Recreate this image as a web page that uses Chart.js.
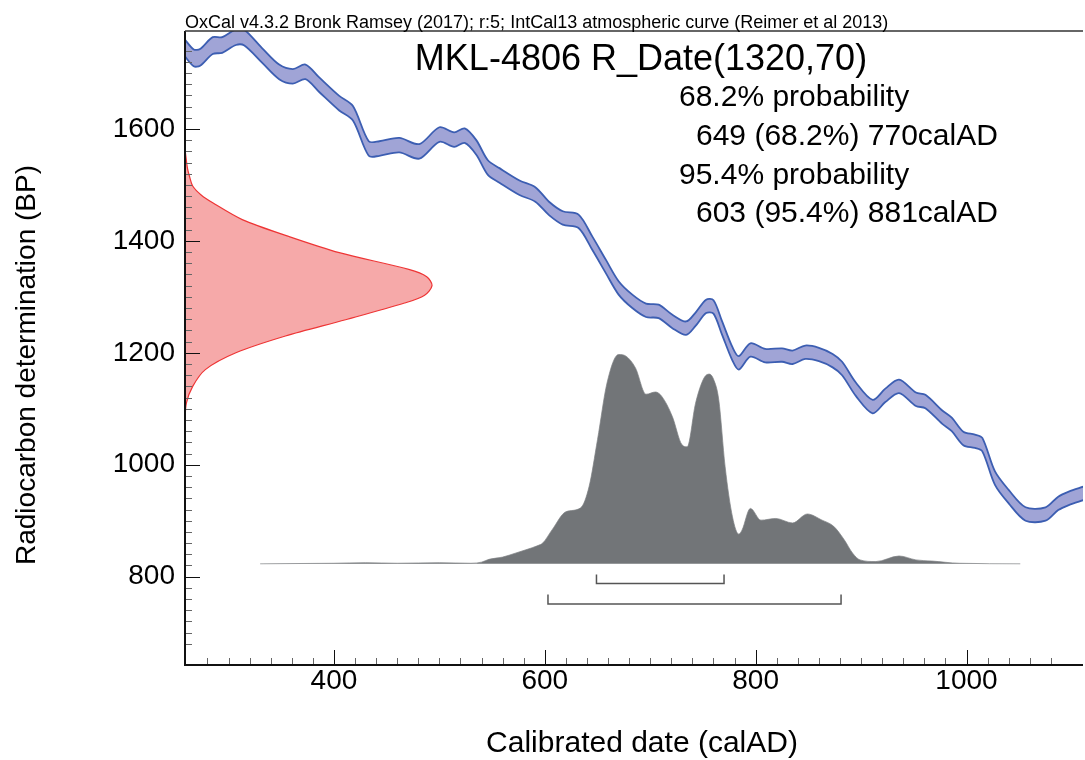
<!DOCTYPE html>
<html>
<head>
<meta charset="utf-8">
<title>MKL-4806 R_Date(1320,70)</title>
<script src="https://cdn.jsdelivr.net/npm/chart.js@4.4.0/dist/chart.umd.min.js"></script>
<style>
    html, body { margin: 0; padding: 0; background: #fff; overflow: hidden; }
    canvas { display: block; }
</style>
</head>
<body>
<canvas id="calChart" width="1085" height="760"></canvas>
<script>
// text shown on the plot
const headerText = 'OxCal v4.3.2 Bronk Ramsey (2017); r:5; IntCal13 atmospheric curve (Reimer et al 2013)';
const titleText = 'MKL-4806 R_Date(1320,70)';
const resultLines = ['68.2% probability', '649 (68.2%) 770calAD', '95.4% probability', '603 (95.4%) 881calAD'];
const xTitle = 'Calibrated date (calAD)';
const yTitle = 'Radiocarbon determination (BP)';

// axes
const xRange = [258.7, 1110.5];
const yRange = [642.2, 1775];
const xTickLabels = [400, 600, 800, 1000];
const yTickLabels = [800, 1000, 1200, 1400, 1600];

// IntCal13 curve: calAD, 14C age (BP), 1 sigma
const curveCal = [258, 267, 273, 285, 294, 307, 315, 332, 348, 361, 373, 386, 405, 418, 433, 443, 462, 481, 500, 514,
    524, 535, 546, 557, 576, 591, 604, 617, 632, 645, 658, 670, 683, 696, 708, 721, 734, 743, 753, 760,
    768, 778, 784, 795, 809, 825, 835, 847, 860, 873, 882, 895, 911, 923, 936, 952, 961, 977, 986, 997,
    1008, 1015, 1027, 1040, 1056, 1075, 1087, 1097, 1111];
const curveBP = [1746, 1727, 1728, 1749, 1750, 1764, 1763, 1731, 1702, 1694, 1702, 1679, 1646, 1628, 1565, 1565, 1571, 1560, 1590, 1581,
    1588, 1567, 1531, 1517, 1495, 1483, 1458, 1441, 1435, 1396, 1354, 1316, 1292, 1276, 1274, 1256, 1244, 1260, 1283, 1282,
    1245, 1198, 1182, 1205, 1195, 1196, 1192, 1201, 1197, 1186, 1172, 1135, 1104, 1124, 1140, 1117, 1113, 1085, 1072, 1047,
    1042, 1036, 976, 943, 912, 912, 931, 940, 949];
const curveSigma = [15, 15, 15, 15, 14, 14, 14, 13, 13, 13, 13, 13, 13, 13, 13, 13, 13, 13, 13, 13,
    13, 13, 13, 13, 13, 13, 12, 12, 12, 12, 12, 12, 12, 12, 12, 12, 12, 12, 12, 12,
    12, 12, 12, 12, 12, 12, 12, 12, 12, 12, 12, 12, 12, 12, 12, 12, 12, 12, 12, 12,
    12, 12, 12, 12, 12, 12, 12, 12, 12];

// measured date 1320 +/- 70 BP, drawn against the y axis (BP, extent in calAD units)
const dateBP = [1564, 1530, 1515, 1498, 1482, 1468, 1438, 1408, 1379, 1349, 1336, 1320, 1303, 1289, 1259, 1230, 1200, 1170, 1140, 1110, 1080];
const dateExtent = [258.7, 261, 263, 266, 274, 285, 313, 357, 405, 471, 488, 493, 486, 467, 411, 354, 307, 278, 266, 260, 258.7];

// calibrated distribution (calAD, height on the BP scale)
const probCal = [330, 400, 430, 460, 500, 530, 540, 547, 560, 572, 582, 594, 598, 607, 620, 634, 642, 650, 659, 670,
    677, 686, 696, 705, 711, 721, 730, 735, 743, 751, 756, 760, 765, 771, 778, 784, 787, 795, 805, 819,
    835, 849, 863, 874, 884, 892, 899, 914, 936, 952, 967, 993, 1051];
const probBP = [823, 824, 825, 824, 825, 824, 826, 831, 835, 842, 848, 856, 860, 884, 916, 923, 961, 1045, 1146, 1197,
    1194, 1173, 1126, 1130, 1122, 1086, 1036, 1032, 1110, 1155, 1162, 1153, 1116, 997, 907, 876, 883, 922, 901, 904,
    896, 912, 901, 890, 866, 842, 830, 827, 837, 830, 828, 824, 823];

// highest probability ranges
const range68 = [649, 770];
const range95 = [603, 881];

const FONT = '"Liberation Sans", Arial, Helvetica, sans-serif';

function toPoints(xs, ys) {
    return xs.map((x, i) => ({ x: x, y: ys[i] }));
}

function bracket(range, base, end) {
    return [
        { x: range[0], y: end }, { x: range[0], y: base },
        { x: range[1], y: base }, { x: range[1], y: end }
    ];
}

const curveUpper = curveCal.map((c, i) => ({ x: c, y: curveBP[i] + curveSigma[i] }));
const curveLower = curveCal.map((c, i) => ({ x: c, y: curveBP[i] - curveSigma[i] }));

const isOn = (v, step) => Math.abs(v / step - Math.round(v / step)) < 1e-6;

const oxcalFrame = {
    id: 'oxcalFrame',
    afterDatasetsDraw(chart) {
        const { ctx, chartArea: area, scales } = chart;
        const x = scales.x, y = scales.y;
        ctx.save();
        ctx.lineWidth = 1;

        // ticks point into the plot
        x.ticks.forEach(t => {
            if (!isOn(t.value, 20)) return;
            const major = xTickLabels.includes(t.value);
            const px = Math.round(x.getPixelForValue(t.value)) + 0.5;
            ctx.strokeStyle = major ? '#111' : '#666';
            ctx.beginPath();
            ctx.moveTo(px, area.bottom);
            ctx.lineTo(px, area.bottom - (major ? 15 : 7));
            ctx.stroke();
        });
        y.ticks.forEach(t => {
            if (!isOn(t.value, 20)) return;
            const major = yTickLabels.includes(t.value);
            const py = Math.round(y.getPixelForValue(t.value)) + 0.5;
            ctx.strokeStyle = major ? '#111' : '#666';
            ctx.beginPath();
            ctx.moveTo(area.left, py);
            ctx.lineTo(area.left + (major ? 15 : 7), py);
            ctx.stroke();
        });

        // frame
        ctx.strokeStyle = '#111';
        ctx.lineWidth = 2;
        ctx.beginPath();
        ctx.moveTo(area.left, area.top);
        ctx.lineTo(area.left, area.bottom);
        ctx.lineTo(area.right, area.bottom);
        ctx.stroke();
        ctx.strokeStyle = '#333';
        ctx.lineWidth = 1.5;
        ctx.beginPath();
        ctx.moveTo(area.left, area.top);
        ctx.lineTo(area.right, area.top);
        ctx.stroke();

        // texts
        ctx.fillStyle = '#000';
        ctx.textBaseline = 'alphabetic';
        ctx.textAlign = 'left';
        ctx.font = '18px ' + FONT;
        ctx.fillText(headerText, area.left, 28);

        ctx.textAlign = 'center';
        ctx.font = '36px ' + FONT;
        ctx.fillText(titleText, 641, 70);

        ctx.textAlign = 'left';
        ctx.font = '30px ' + FONT;
        const lineX = [679, 696, 679, 696];
        const lineY = [106, 145, 184, 222];
        resultLines.forEach((s, i) => ctx.fillText(s, lineX[i], lineY[i]));

        ctx.font = '30px ' + FONT;
        ctx.textAlign = 'center';
        ctx.textBaseline = 'middle';
        ctx.fillText(xTitle, 642, 744);
        ctx.font = '28px ' + FONT;
        ctx.save();
        ctx.translate(27, 365);
        ctx.rotate(-Math.PI / 2);
        ctx.fillText(yTitle, 0, 0);
        ctx.restore();

        ctx.restore();
    }
};

new Chart(document.getElementById('calChart').getContext('2d'), {
    type: 'line',
    data: {
        datasets: [
            {
                label: 'IntCal13 upper',
                data: curveUpper,
                borderColor: '#3c5eb2',
                borderWidth: 1.8,
                tension: 0.3,
                fill: false
            },
            {
                label: 'IntCal13 lower',
                data: curveLower,
                borderColor: '#3c5eb2',
                backgroundColor: '#a0a4d6',
                borderWidth: 1.8,
                tension: 0.3,
                fill: '-1'
            },
            {
                label: 'R_Date',
                data: toPoints(dateExtent, dateBP),
                borderColor: '#ee3535',
                backgroundColor: '#f6a9a9',
                borderWidth: 1.2,
                tension: 0.3,
                fill: 'shape'
            },
            {
                label: 'Calibrated',
                data: toPoints(probCal, probBP),
                borderColor: 'rgba(125,128,131,0.7)',
                backgroundColor: '#727578',
                borderWidth: 1,
                cubicInterpolationMode: 'monotone',
                fill: { value: 823 }
            },
            {
                label: '68.2%',
                data: bracket(range68, 788, 804),
                borderColor: '#555',
                borderWidth: 1.5,
                tension: 0,
                fill: false
            },
            {
                label: '95.4%',
                data: bracket(range95, 751, 768),
                borderColor: '#555',
                borderWidth: 1.5,
                tension: 0,
                fill: false
            }
        ]
    },
    options: {
        responsive: false,
        animation: false,
        devicePixelRatio: 1,
        events: [],
        layout: { padding: { top: 31, right: 0, bottom: 0, left: 0 } },
        elements: { point: { radius: 0 } },
        plugins: {
            legend: { display: false },
            tooltip: { enabled: false }
        },
        scales: {
            x: {
                type: 'linear',
                min: xRange[0],
                max: xRange[1],
                grid: { display: false, drawTicks: false },
                border: { display: false },
                ticks: {
                    stepSize: 20,
                    autoSkip: false,
                    maxRotation: 0,
                    minRotation: 0,
                    padding: 2,
                    color: '#000',
                    font: { family: FONT, size: 28, lineHeight: 1 },
                    callback: v => xTickLabels.includes(v) ? String(v) : ''
                },
                afterFit: s => { s.height = 95; }
            },
            y: {
                type: 'linear',
                min: yRange[0],
                max: yRange[1],
                grid: { display: false, drawTicks: false },
                border: { display: false },
                ticks: {
                    stepSize: 20,
                    autoSkip: false,
                    padding: 10,
                    color: '#000',
                    font: { family: FONT, size: 28, lineHeight: 1 },
                    callback: v => yTickLabels.includes(v) ? String(v) : ''
                },
                afterFit: s => { s.width = 185; }
            }
        }
    },
    plugins: [oxcalFrame]
});
</script>
</body>
</html>
